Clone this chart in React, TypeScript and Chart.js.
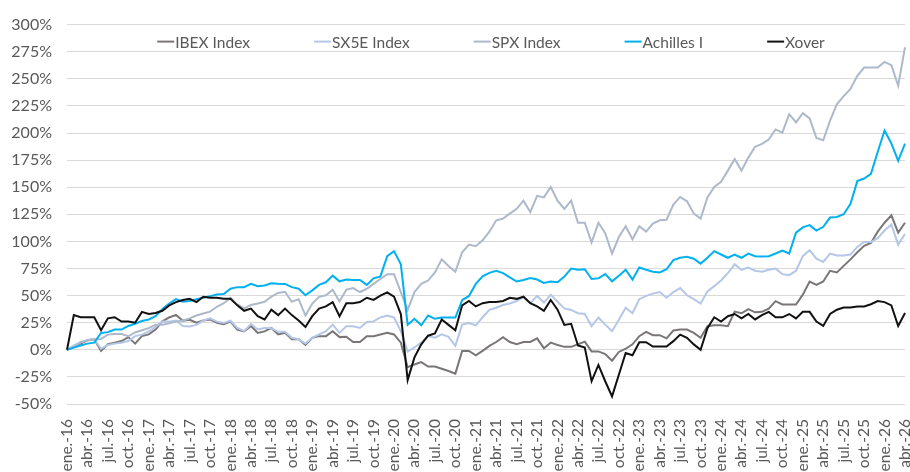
import React, { useEffect, useRef } from 'react';
import { Chart, registerables } from 'chart.js';

Chart.register(...registerables);

const MONTHS = ['ene.', 'feb.', 'mar.', 'abr.', 'may.', 'jun.', 'jul.', 'ago.', 'sep.', 'oct.', 'nov.', 'dic.'];
const YEARS = ['16', '17', '18', '19', '20', '21', '22', '23', '24', '25', '26'];
const LAST_MONTH_OF_LAST_YEAR = 4; // abr.-26

const CATEGORIES: string[] = [];
YEARS.forEach((y, yi) => {
  const n = yi === YEARS.length - 1 ? LAST_MONTH_OF_LAST_YEAR : 12;
  for (let m = 0; m < n; m++) CATEGORIES.push(MONTHS[m] + '-' + y);
});
const SHOWN_MONTHS = ['ene.', 'abr.', 'jul.', 'oct.'];

const IBEX = [
  0, 3, 5.7, 8.8, 9.7, -1, 5.1, 6.6, 8.1, 11.7, 5.7, 12.6,
  14.2, 18.7, 26.2, 29.8, 32.2, 26.8, 27.7, 25, 27, 28, 25, 23.5,
  26, 18.7, 17, 22, 15.6, 17, 20.2, 14.2, 15.6, 9.7, 9.7, 4.5,
  11, 12.6, 12.6, 17.2, 11.7, 12, 7.2, 7.2, 12.6, 12.6, 14.2, 15.6,
  14.2, 6.6, -16, -13.5, -11.4, -15.4, -15.4, -17.5, -19.6, -22, -1, -1,
  -5, -1, 3.6, 7.2, 11.7, 7.2, 5.1, 7.2, 7.2, 10.6, 1.5, 6.6,
  4.5, 2.7, 2.7, 5.1, 7.5, -1.5, -1.5, -3.9, -10, -2, 1, 5.1,
  12.6, 16.5, 13.5, 13.5, 10.6, 17.8, 18.7, 18.7, 15.6, 11.1, 21.7, 22.6,
  22.6, 21.7, 35.2, 33.7, 37.6, 34.6, 35, 38, 44.9, 41.8, 41.8, 41.8,
  50.9, 63, 59.9, 63, 72.9, 71.4, 77.4, 83.4, 90, 96, 98.5, 109,
  117.2, 124, 108.1, 117.2,
];

const SX5E = [
  0, 4, 7, 9, 10, 1, 4.5, 5.7, 6.5, 8.1, 12.6, 14,
  17, 21, 26, 26, 27, 22, 21.5, 23, 27, 29, 26, 24.7,
  26.8, 20.2, 17.2, 23.8, 18.7, 20.2, 20, 16.6, 16.6, 11.1, 9.7, 5.7,
  11.1, 14.2, 17.2, 23.2, 15.6, 21.7, 21.7, 20.2, 25.6, 26.2, 29.8, 31.6,
  29.8, 17.2, -1.5, 2.1, 6.6, 12.6, 11.1, 14.2, 12, 3.6, 23.2, 24.7,
  22.6, 30, 36.8, 38.8, 41.3, 42.7, 45, 48.8, 43, 49.7, 43.6, 50.9,
  44.3, 38.2, 36.8, 33.7, 33.1, 21.7, 29.8, 23.2, 17.2, 27.7, 38.8, 33.7,
  46.7, 49.7, 51.8, 53.3, 48.1, 53.3, 56.9, 50.3, 46.7, 42.7, 53.9, 58.7,
  63.9, 70.7, 78.9, 73.8, 75.9, 72.9, 72, 73.8, 75, 69.8, 68.9, 72.9,
  86.4, 91.9, 84, 81, 88.8, 87, 87, 87.9, 94.9, 99.4, 99.4, 103,
  110, 115.6, 97, 106.9,
];

const SPX = [
  0, 2.5, 7, 8.5, 9.5, 10, 14, 14.5, 14.5, 12.5, 16, 18,
  20, 23, 23, 24.5, 26, 27, 29, 31.6, 33.5, 35.2, 39.7, 43,
  47.9, 41.8, 38.2, 41.3, 42.7, 44.3, 49, 52.5, 53.5, 44.3, 46.7, 31.6,
  42.7, 48.8, 50.3, 55.4, 44.6, 55.5, 56.9, 53.3, 56.3, 60.8, 65.3, 69.8,
  69.8, 53.3, 36.8, 53.3, 60.8, 63.9, 71.4, 83.4, 77.4, 72, 90, 97,
  95.5, 101, 109, 119.5, 121, 125.6, 130, 137.6, 127, 142, 140.6, 150.2,
  137.6, 130, 137.6, 117.2, 117.2, 99, 117.2, 107.5, 88.8, 104, 114, 102,
  114, 109, 116.5, 119.5, 120, 134, 141, 137, 125.6, 121, 140.6, 150.2,
  155, 165.3, 176, 165.3, 177.3, 187.3, 190, 194, 203.3, 200.3, 217.4, 209.8,
  218.3, 213.5, 195.4, 193.3, 211.4, 226.5, 234, 240.6, 252.7, 260.4, 260.4, 260.4,
  265.6, 262.6, 243.6, 279.1,
];

const ACHILLES = [
  0, 2, 4, 5.7, 6.6, 15.6, 16.3, 18.7, 18.7, 22, 24, 26.5,
  28, 31, 37.6, 42.7, 46.7, 44.3, 45, 46.7, 48, 49.5, 51, 51.5,
  56.3, 57.8, 57.8, 60.8, 58.7, 59.3, 61.4, 61, 60.8, 57.8, 56.3, 50.3,
  54.8, 59.9, 62.3, 68.4, 63.2, 64.8, 64.4, 64.4, 59.9, 65.9, 67.7, 86.4,
  91, 78.9, 23.2, 28.6, 22.6, 31.6, 28.6, 29.8, 29.8, 29.8, 45.8, 49.7,
  60.8, 67.7, 71, 72.9, 70.7, 66.8, 63, 64.4, 66.2, 64.8, 61.7, 63,
  62.3, 67.5, 75, 73.8, 74.3, 65.3, 65.9, 69.8, 63.2, 68.4, 73.8, 64.8,
  75.9, 73.8, 72, 71.4, 74.3, 82.8, 84.9, 85.8, 84, 79.5, 84.9, 91,
  87.9, 84.9, 87.9, 84.9, 88.8, 86.4, 86, 86.4, 88.8, 91.5, 88.8, 108.1,
  112.9, 115, 110, 113.5, 122, 122.6, 125, 134.6, 155.6, 158, 162.3, 182.7,
  202.3, 190.3, 174.3, 190.3,
];

const XOVER = [
  0, 32, 30, 30, 30, 18, 29, 30, 26, 26, 25, 35,
  33, 34, 36, 41, 44, 46, 47, 44, 49, 48, 48, 47,
  47, 41, 36, 38, 31, 28, 37, 32, 38, 32, 27, 21,
  31, 38, 40, 44, 31, 43, 43, 44, 48, 46, 50, 53,
  49, 33, -28, -7, 5, 13, 15, 28, 23, 18, 41, 45,
  40, 43, 44, 44, 45, 48, 47, 49, 43, 40, 36, 46,
  37, 23, 24, 4, 2, -29, -14, -29, -43, -23, -3, -5,
  7, 7, 3, 3, 3, 8, 14, 11, 5, 0, 20, 30,
  26, 31, 33, 29, 33, 28, 32, 35, 30, 30, 33, 29,
  35, 35, 26, 22, 33, 37, 39, 39, 40, 40, 42, 45,
  44, 41, 22, 34,
];

const SERIES = [
  { label: 'IBEX Index', data: IBEX, color: '#7a7676', order: 5 },
  { label: 'SX5E Index', data: SX5E, color: '#b4c7e7', order: 4 },
  { label: 'SPX Index', data: SPX, color: '#adb9ca', order: 3 },
  { label: 'Achilles I', data: ACHILLES, color: '#00b0f0', order: 2 },
  { label: 'Xover', data: XOVER, color: '#111111', order: 1 },
];

const Y_MIN = -50;
const Y_MAX = 300;
const Y_STEP = 25;

const FONT = 'Lato, "Noto Sans", sans-serif';
const TEXT_COLOR = '#595959';

const topLegend = {
  id: 'topLegend',
  afterDraw(chart: any) {
    const { ctx, chartArea } = chart;
    ctx.save();
    ctx.font = `15.5px ${FONT}`;
    ctx.textBaseline = 'middle';
    const lineW = 17;
    const gap = 64;
    const items = chart.data.datasets.map((ds: any) => ({
      label: ds.label,
      color: ds.borderColor,
      w: lineW + 1 + ctx.measureText(ds.label).width,
    }));
    const total = items.reduce((s: number, it: any) => s + it.w, 0) + gap * (items.length - 1);
    let x = (chartArea.left + chartArea.right) / 2 + 5 - total / 2;
    const y = chartArea.top + 17;
    items.forEach((it: any) => {
      ctx.strokeStyle = it.color;
      ctx.lineWidth = 2;
      ctx.beginPath();
      ctx.moveTo(x, y);
      ctx.lineTo(x + lineW, y);
      ctx.stroke();
      ctx.fillStyle = TEXT_COLOR;
      ctx.fillText(it.label, x + lineW + 1, y + 1);
      x += it.w + gap;
    });
    ctx.restore();
  },
};

export default function App() {
  const ref = useRef<HTMLCanvasElement | null>(null);

  useEffect(() => {
    document.body.style.margin = '0';
    if (!ref.current) return;
    Chart.defaults.font.family = FONT;
    const chart = new Chart(ref.current, {
      type: 'line',
      data: {
        labels: CATEGORIES,
        datasets: SERIES.map((s) => ({
          label: s.label,
          data: s.data,
          borderColor: s.color,
          backgroundColor: s.color,
          borderWidth: 2,
          pointRadius: 0,
          tension: 0,
          fill: false,
          order: s.order,
        })),
      },
      options: {
        animation: false,
        responsive: false,
        layout: { padding: { top: 17, right: 5, left: 0, bottom: 0 } },
        plugins: {
          legend: { display: false },
          tooltip: { enabled: false },
        },
        scales: {
          x: {
            type: 'category',
            offset: false,
            grid: { display: false, drawTicks: false },
            border: { display: false },
            ticks: {
              autoSkip: false,
              maxRotation: 90,
              minRotation: 90,
              padding: 15,
              color: TEXT_COLOR,
              font: { size: 15.5, family: FONT },
              callback: (_v: any, i: number) => {
                const lab = CATEGORIES[i];
                return SHOWN_MONTHS.includes(lab.split('-')[0]) ? lab : '';
              },
            },
            afterFit: (scale: any) => {
              scale.height = 68;
              scale.paddingLeft = 0;
              scale.paddingRight = 0;
            },
          },
          y: {
            min: Y_MIN,
            max: Y_MAX,
            grid: { color: '#d9d9d9', lineWidth: 1, drawTicks: false },
            border: { display: false },
            ticks: {
              stepSize: Y_STEP,
              padding: 15,
              color: TEXT_COLOR,
              font: { size: 16, family: FONT },
              callback: (v: any) => `${v}%`,
            },
            afterFit: (scale: any) => {
              scale.width = 67;
            },
          },
        },
      },
      plugins: [topLegend],
    });
    return () => chart.destroy();
  }, []);

  return (
    <div style={{ width: 910, height: 472 }}>
      <canvas ref={ref} width={910} height={472} />
    </div>
  );
}
